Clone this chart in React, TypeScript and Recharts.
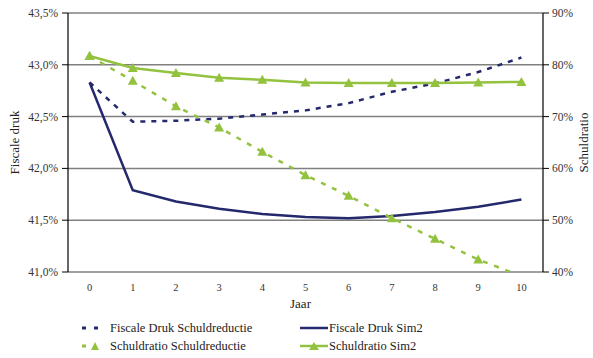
import React from "react";
import {
  ComposedChart,
  Line,
  XAxis,
  YAxis,
  CartesianGrid,
  Legend,
  Label,
} from "recharts";

// Years after the start of the scenario
const years = [0, 1, 2, 3, 4, 5, 6, 7, 8, 9, 10];

// Tax burden (% of GDP), left axis
const fiscaleDrukSchuldreductie = [42.83, 42.45, 42.46, 42.48, 42.52, 42.56, 42.63, 42.74, 42.82, 42.93, 43.07];
const fiscaleDrukSim2 = [42.83, 41.79, 41.68, 41.61, 41.56, 41.53, 41.52, 41.54, 41.58, 41.63, 41.7];

// Debt ratio (% of GDP), right axis
const schuldratioSchuldreductie = [81.7, 76.9, 72.0, 67.9, 63.2, 58.7, 54.7, 50.4, 46.4, 42.4, 39.2];
const schuldratioSim2 = [81.7, 79.4, 78.4, 77.5, 77.1, 76.6, 76.5, 76.5, 76.5, 76.6, 76.7];

// Axis ticks
const leftTicks = [41, 41.5, 42, 42.5, 43, 43.5];
const rightTicks = [40, 50, 60, 70, 80, 90];
const boundaryTicks = [-0.5, 0.5, 1.5, 2.5, 3.5, 4.5, 5.5, 6.5, 7.5, 8.5, 9.5, 10.5];

const NAVY = "#24286c";
const GREEN = "#93c23f";
const FONT = "Liberation Serif, Times New Roman, serif";

const data = years.map((jaar, i) => ({
  jaar,
  fdSchuld: fiscaleDrukSchuldreductie[i],
  fdSim2: fiscaleDrukSim2[i],
  srSchuld: schuldratioSchuldreductie[i],
  srSim2: schuldratioSim2[i],
}));

const series = [
  { key: "fdSchuld", name: "Fiscale Druk Schuldreductie", color: NAVY, dashed: true, marker: false },
  { key: "fdSim2", name: "Fiscale Druk Sim2", color: NAVY, dashed: false, marker: false },
  { key: "srSchuld", name: "Schuldratio Schuldreductie", color: GREEN, dashed: true, marker: true },
  { key: "srSim2", name: "Schuldratio Sim2", color: GREEN, dashed: false, marker: true },
];

const Triangle = (props: any) => {
  const { cx, cy, fill } = props;
  if (cx == null || cy == null) return null;
  return (
    <polygon
      points={`${cx - 5},${cy + 4} ${cx + 5},${cy + 4} ${cx},${cy - 5}`}
      fill={fill}
      stroke="none"
    />
  );
};

const pct1 = (v: number) => `${v.toFixed(1).replace(".", ",")}%`;
const pct0 = (v: number) => `${v}%`;

const LegendIcon = ({ color, dashed, marker }: any) => (
  <svg width={30} height={10} style={{ display: "block" }}>
    {dashed ? (
      marker ? (
        <>
          <line x1={2} y1={5} x2={6} y2={5} stroke={color} strokeWidth={3} />
          <polygon points="11,9 19,9 15,1" fill={color} />
        </>
      ) : (
        <>
          <line x1={2} y1={5} x2={6} y2={5} stroke={color} strokeWidth={3} />
          <line x1={14} y1={5} x2={18} y2={5} stroke={color} strokeWidth={3} />
        </>
      )
    ) : (
      <>
        <line x1={0} y1={5} x2={28} y2={5} stroke={color} strokeWidth={2.5} />
        {marker && <polygon points="9,9 19,9 14,1" fill={color} />}
      </>
    )}
  </svg>
);

const renderLegend = () => {
  const cols = [
    { iconLeft: 80, textLeft: 110 },
    { iconLeft: 300, textLeft: 329 },
  ];
  const rows = [14, 32];
  const order = [
    [0, 0],
    [1, 0],
    [0, 1],
    [1, 1],
  ];
  return (
    <div style={{ position: "relative", width: 593, height: 44, fontFamily: FONT, fontSize: 12.5, color: "#222" }}>
      {series.map((s, i) => {
        const [c, r] = order[i];
        return (
          <React.Fragment key={s.key}>
            <div style={{ position: "absolute", left: cols[c].iconLeft, top: rows[r] - 5 }}>
              <LegendIcon color={s.color} dashed={s.dashed} marker={s.marker} />
            </div>
            <div style={{ position: "absolute", left: cols[c].textLeft, top: rows[r] - 8, lineHeight: "16px", whiteSpace: "nowrap" }}>
              {s.name}
            </div>
          </React.Fragment>
        );
      })}
    </div>
  );
};

const VerticalTitle = ({ viewBox, value, dx }: any) => {
  const { x, y, height } = viewBox;
  const cx = x + dx;
  const cy = y + height / 2;
  return (
    <text
      x={cx}
      y={cy}
      transform={`rotate(-90, ${cx}, ${cy})`}
      textAnchor="middle"
      dominantBaseline="central"
      fontFamily={FONT}
      fontSize={13}
      fill="#222"
    >
      {value}
    </text>
  );
};

const tickStyle = { fontFamily: FONT, fontSize: 11.5, fill: "#333" };

export default function App() {
  return (
    <div style={{ position: "absolute", left: 0, top: 0, width: 593, height: 358, background: "#fff" }}>
      <ComposedChart width={593} height={358} data={data} margin={{ top: 13, right: 0, bottom: 0, left: 0 }}>
        <CartesianGrid
          yAxisId="left"
          xAxisId="ticks"
          vertical={false}
          horizontalValues={leftTicks}
          stroke="#808080"
          strokeWidth={1.5}
        />
        <XAxis
          xAxisId="ticks"
          dataKey="jaar"
          type="number"
          domain={[-0.5, 10.5]}
          ticks={boundaryTicks}
          height={0}
          tick={false}
          tickSize={5}
          tickLine={{ stroke: "#000", strokeWidth: 1 }}
          axisLine={{ stroke: "#000", strokeWidth: 1.2 }}
          allowDecimals
        />
        <XAxis
          xAxisId="labels"
          dataKey="jaar"
          type="number"
          domain={[-0.5, 10.5]}
          ticks={years}
          height={42}
          tickLine={false}
          axisLine={false}
          tickMargin={6}
          tick={{ ...tickStyle, fontSize: 10.5 }}
        >
          <Label
            value="Jaar"
            position="insideBottom"
            offset={6}
            style={{ fontFamily: FONT, fontSize: 13, fill: "#222" }}
            dx={-5}
          />
        </XAxis>
        <YAxis
          yAxisId="left"
          orientation="left"
          width={68}
          domain={[41, 43.5]}
          ticks={leftTicks}
          tickFormatter={pct1}
          tickSize={6}
          tickMargin={4}
          tick={tickStyle}
          tickLine={{ stroke: "#000" }}
          axisLine={{ stroke: "#000", strokeWidth: 1.2 }}
          interval={0}
        >
          <Label value="Fiscale druk" content={(p: any) => <VerticalTitle {...p} value="Fiscale druk" dx={14} />} />
        </YAxis>
        <YAxis
          yAxisId="right"
          orientation="right"
          width={50}
          domain={[40, 90]}
          ticks={rightTicks}
          tickFormatter={pct0}
          tickSize={6}
          tickMargin={3}
          tick={tickStyle}
          tickLine={{ stroke: "#000" }}
          axisLine={{ stroke: "#000", strokeWidth: 1.2 }}
          allowDataOverflow
          interval={0}
        >
          <Label value="Schuldratio" content={(p: any) => <VerticalTitle {...p} value="Schuldratio" dx={40} />} />
        </YAxis>
        <Legend verticalAlign="bottom" align="left" content={renderLegend} wrapperStyle={{ left: 0, width: 593, height: 44 }} />
        <Line
          xAxisId="labels"
          yAxisId="left"
          dataKey="fdSchuld"
          name="Fiscale Druk Schuldreductie"
          stroke={NAVY}
          strokeWidth={2.5}
          strokeDasharray="5 6"
          dot={false}
          activeDot={false}
          type="linear"
          isAnimationActive={false}
        />
        <Line
          xAxisId="labels"
          yAxisId="left"
          dataKey="fdSim2"
          name="Fiscale Druk Sim2"
          stroke={NAVY}
          strokeWidth={2.5}
          dot={false}
          activeDot={false}
          type="linear"
          isAnimationActive={false}
        />
        <Line
          xAxisId="labels"
          yAxisId="right"
          dataKey="srSchuld"
          name="Schuldratio Schuldreductie"
          stroke={GREEN}
          strokeWidth={2.5}
          strokeDasharray="5 7"
          dot={(p: any) => <Triangle key={`a${p.index}`} cx={p.cx} cy={p.cy} fill={GREEN} />}
          activeDot={false}
          type="linear"
          isAnimationActive={false}
        />
        <Line
          xAxisId="labels"
          yAxisId="right"
          dataKey="srSim2"
          name="Schuldratio Sim2"
          stroke={GREEN}
          strokeWidth={2.5}
          dot={(p: any) => <Triangle key={`b${p.index}`} cx={p.cx} cy={p.cy} fill={GREEN} />}
          activeDot={false}
          type="linear"
          isAnimationActive={false}
        />
      </ComposedChart>
    </div>
  );
}
